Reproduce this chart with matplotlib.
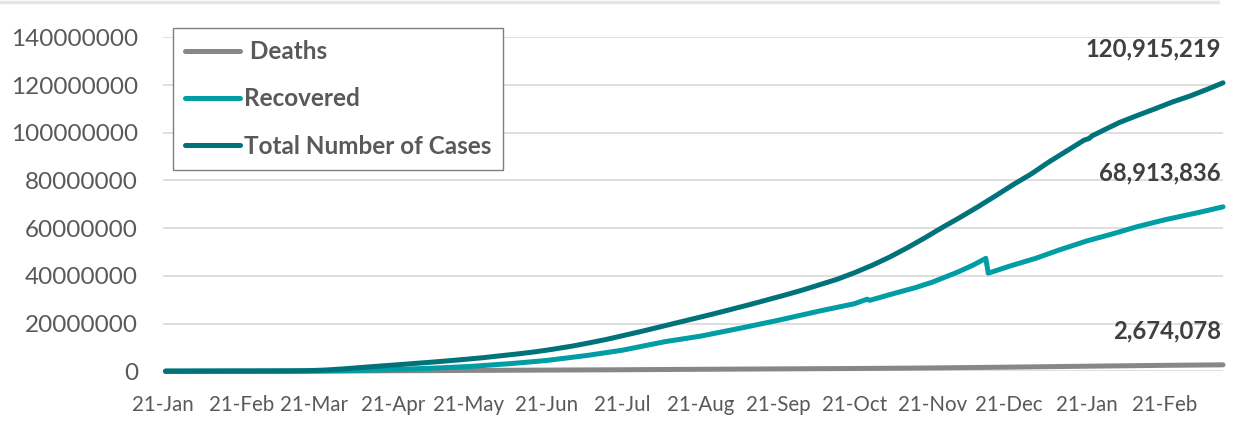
import pandas as pd
import matplotlib.pyplot as plt
import matplotlib.dates as mdates
from matplotlib.lines import Line2D
from matplotlib.ticker import FuncFormatter, MultipleLocator

plt.rcParams['font.family'] = ['Lato', 'DejaVu Sans']

# values in millions
total_dates = ['2020-01-22', '2020-01-29', '2020-02-05', '2020-02-12', '2020-02-19',
               '2020-02-26', '2020-03-04', '2020-03-11', '2020-03-18', '2020-03-25',
               '2020-04-01', '2020-04-08', '2020-04-15', '2020-04-22', '2020-04-29',
               '2020-05-06', '2020-05-13', '2020-05-20', '2020-05-27', '2020-06-03',
               '2020-06-10', '2020-06-17', '2020-06-24', '2020-07-01', '2020-07-08',
               '2020-07-15', '2020-07-22', '2020-07-29', '2020-08-05', '2020-08-12',
               '2020-08-19', '2020-08-26', '2020-09-02', '2020-09-09', '2020-09-16',
               '2020-09-23', '2020-09-30', '2020-10-07', '2020-10-14', '2020-10-21',
               '2020-10-28', '2020-11-04', '2020-11-11', '2020-11-18', '2020-11-25',
               '2020-12-02', '2020-12-09', '2020-12-16', '2020-12-23', '2020-12-30',
               '2021-01-06', '2021-01-13', '2021-01-20', '2021-01-22', '2021-01-23',
               '2021-01-27', '2021-02-03', '2021-02-10', '2021-02-17', '2021-02-24',
               '2021-03-03', '2021-03-10', '2021-03-16']
total_cases = [0.0006, 0.006, 0.028, 0.060, 0.076,
               0.082, 0.095, 0.126, 0.215, 0.47,
               0.93, 1.51, 2.08, 2.63, 3.19,
               3.75, 4.35, 5.0, 5.69, 6.5,
               7.3, 8.2, 9.3, 10.5, 11.9,
               13.4, 15.1, 16.8, 18.6, 20.4,
               22.2, 24.0, 25.9, 27.8, 29.8,
               31.8, 33.9, 36.2, 38.5, 41.3,
               44.4, 47.9, 51.8, 56.0, 60.4,
               64.6, 69.0, 73.6, 78.3, 82.7,
               87.7, 92.3, 96.9, 97.6, 98.6,
               100.7, 104.3, 107.2, 110.0, 112.9,
               115.4, 118.3, 120.915219]

recovered_dates = ['2020-01-22', '2020-02-21', '2020-03-07', '2020-03-21', '2020-04-07',
                   '2020-04-21', '2020-05-07', '2020-05-21', '2020-06-07', '2020-06-21',
                   '2020-07-07', '2020-07-21', '2020-08-07', '2020-08-21', '2020-09-07',
                   '2020-09-21', '2020-10-07', '2020-10-21', '2020-10-26', '2020-10-27',
                   '2020-11-07', '2020-11-14', '2020-11-21', '2020-12-01', '2020-12-07',
                   '2020-12-12', '2020-12-13', '2020-12-21', '2021-01-01', '2021-01-10',
                   '2021-01-21', '2021-02-01', '2021-02-10', '2021-02-21', '2021-03-07',
                   '2021-03-16']
recovered = [0.00003, 0.019, 0.058, 0.097, 0.30,
             0.68, 1.27, 1.95, 3.2, 4.5,
             6.6, 8.8, 12.4, 14.7, 18.3,
             21.4, 25.2, 28.3, 30.2, 29.7,
             33.0, 35.0, 37.4, 41.6, 44.5,
             47.3, 41.1, 43.9, 47.4, 50.8,
             54.6, 57.8, 60.6, 63.5, 66.7,
             68.913836]

deaths_dates = ['2020-01-22', '2020-03-21', '2020-04-21', '2020-05-21', '2020-06-21',
                '2020-07-21', '2020-08-21', '2020-09-21', '2020-10-21', '2020-11-21',
                '2020-12-21', '2021-01-21', '2021-02-21', '2021-03-16']
deaths = [0.0, 0.013, 0.18, 0.33, 0.47,
          0.61, 0.80, 0.97, 1.13, 1.37,
          1.70, 2.09, 2.46, 2.674078]

tick_dates = pd.date_range('2020-01-01', '2021-02-01', freq='MS') + pd.Timedelta(days=20)

c_deaths = '#878787'
c_recovered = '#009DA5'
c_total = '#00737A'

fig = plt.figure(figsize=(12.41, 4.26), dpi=100)
ax = fig.add_axes([163 / 1241, 1 - 371.2 / 426, (1223 - 163) / 1241, (371.2 - 37.3) / 426])

lw = 3.6
l1, = ax.plot(pd.to_datetime(deaths_dates), [v * 1e6 for v in deaths], color=c_deaths, lw=lw,
              solid_capstyle='round', solid_joinstyle='round', clip_on=False, label=' Deaths')
l2, = ax.plot(pd.to_datetime(recovered_dates), [v * 1e6 for v in recovered], color=c_recovered, lw=lw,
              solid_capstyle='round', solid_joinstyle='round', clip_on=False, label='Recovered')
l3, = ax.plot(pd.to_datetime(total_dates), [v * 1e6 for v in total_cases], color=c_total, lw=lw,
              solid_capstyle='round', solid_joinstyle='round', clip_on=False, label='Total Number of Cases')

ax.set_xlim(pd.Timestamp('2020-01-21'), pd.Timestamp('2021-03-16'))
ax.set_ylim(0, 140e6)
ax.yaxis.set_major_locator(MultipleLocator(20e6))
ax.yaxis.set_major_formatter(FuncFormatter(lambda v, p: '%d' % v))
ax.set_xticks(tick_dates)
ax.xaxis.set_major_formatter(mdates.DateFormatter('%d-%b'))

ax.grid(axis='y', color='#d9d9d9', lw=1.2)
ax.set_axisbelow(True)
for s in ax.spines.values():
    s.set_visible(False)
ax.tick_params(axis='both', length=0, colors='#595959')
ax.tick_params(axis='y', pad=18, labelsize=17.5)
ax.tick_params(axis='x', pad=17, labelsize=14.8)

# end-point labels
for d, v in [(total_dates[-1], total_cases[-1]), (recovered_dates[-1], recovered[-1]),
             (deaths_dates[-1], deaths[-1])]:
    ax.annotate(f'{round(v * 1e6):,}', (pd.Timestamp(d), v * 1e6), xytext=(-2, 34),
                textcoords='offset pixels', ha='right', va='center',
                fontsize=17.2, fontweight='bold', color='#404040', annotation_clip=False)

leg = ax.legend(handles=[l1, l2, l3], loc='upper left', bbox_to_anchor=(173 / 1241, 1 - 28 / 426),
                bbox_transform=fig.transFigure, borderaxespad=0, fancybox=False,
                prop={'size': 17.5, 'weight': 'bold'}, labelcolor='#595959',
                borderpad=0.5, labelspacing=1.0, handlelength=2.25, handletextpad=0.16,
                framealpha=1)
leg.get_frame().set_edgecolor('#7f7f7f')
leg.get_frame().set_linewidth(1.0)

fig.add_artist(Line2D([0, 1218 / 1241], [1 - 1.5 / 426] * 2, transform=fig.transFigure,
                      color='#e6e6e6', lw=2.5))

fig.savefig('out.png', dpi=100)
